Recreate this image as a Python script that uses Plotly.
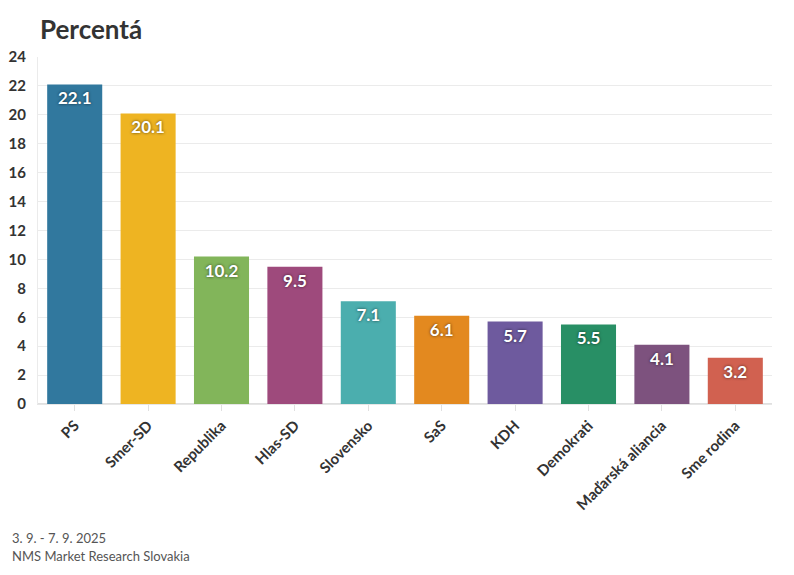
import plotly.graph_objects as go

parties = ["PS", "Smer-SD", "Republika", "Hlas-SD", "Slovensko", "SaS", "KDH",
           "Demokrati", "Maďarská aliancia", "Sme rodina"]
values = [22.1, 20.1, 10.2, 9.5, 7.1, 6.1, 5.7, 5.5, 4.1, 3.2]
colors = ["#31789e", "#eeb422", "#82b55a", "#9e4a7c", "#4baeae", "#e3891f",
          "#6e5a9e", "#288f65", "#7d527e", "#d16150"]
y_ticks = list(range(0, 25, 2))

FONT = "Lato, 'Noto Sans', sans-serif"

W, H = 794, 575
OFF = 8  # page body margin
l, r, t, b = 38 - OFF, W + OFF - 772, 57 - OFF, H + OFF - 404

fig = go.Figure(go.Bar(
    x=parties, y=values,
    marker=dict(color=colors, line=dict(width=0)),
    text=[f"{v:.1f}" for v in values],
    textposition="inside", insidetextanchor="end",
    textfont=dict(family=FONT, size=17, color="white", weight="bold",
                  shadow="0px 0px 3px rgba(0,0,0,0.65)"),
    textangle=0,
    hoverinfo="skip",
))

fig.update_layout(
    width=W, height=H,
    margin=dict(l=l, r=r, t=t, b=b, autoexpand=False),
    paper_bgcolor="white", plot_bgcolor="white",
    bargap=0.25,
    showlegend=False,
    font=dict(family=FONT, color="#333"),
)
fig.update_xaxes(
    tickangle=-45, tickfont=dict(size=15, color="#333", weight="bold"),
    ticks="outside", ticklen=6, tickcolor="#e0e0e0",
    showline=True, linecolor="#e6e6e6", showgrid=False,
    range=[-0.5, 9.5], automargin=False,
)
fig.update_yaxes(
    range=[0, 24], tickvals=y_ticks, ticktext=[str(t) for t in y_ticks],
    tickfont=dict(size=15, color="#333", weight="bold"),
    gridcolor="#ebebeb", zeroline=True, zerolinecolor="#e0e0e0",
    showline=True, linecolor="#ebebeb", ticks="", ticklabelstandoff=8,
    automargin=False,
)

pw, ph = W - l - r, H - t - b


def px(x, y):
    return (x - OFF - l) / pw, (H - b - (y - OFF)) / ph


for txt, x, y, size, color in [
    ("<b>Percentá</b>", 38, 29, 26, "#333"),
    ("3. 9. - 7. 9. 2025", 10, 538, 13, "#555"),
    ("NMS Market Research Slovakia", 10, 556, 13, "#555"),
]:
    ax, ay = px(x, y)
    fig.add_annotation(text=txt, x=ax, y=ay, xref="paper", yref="paper",
                       xanchor="left", yanchor="middle", showarrow=False,
                       font=dict(size=size, color=color, family=FONT))

fig.write_html("out.html")
